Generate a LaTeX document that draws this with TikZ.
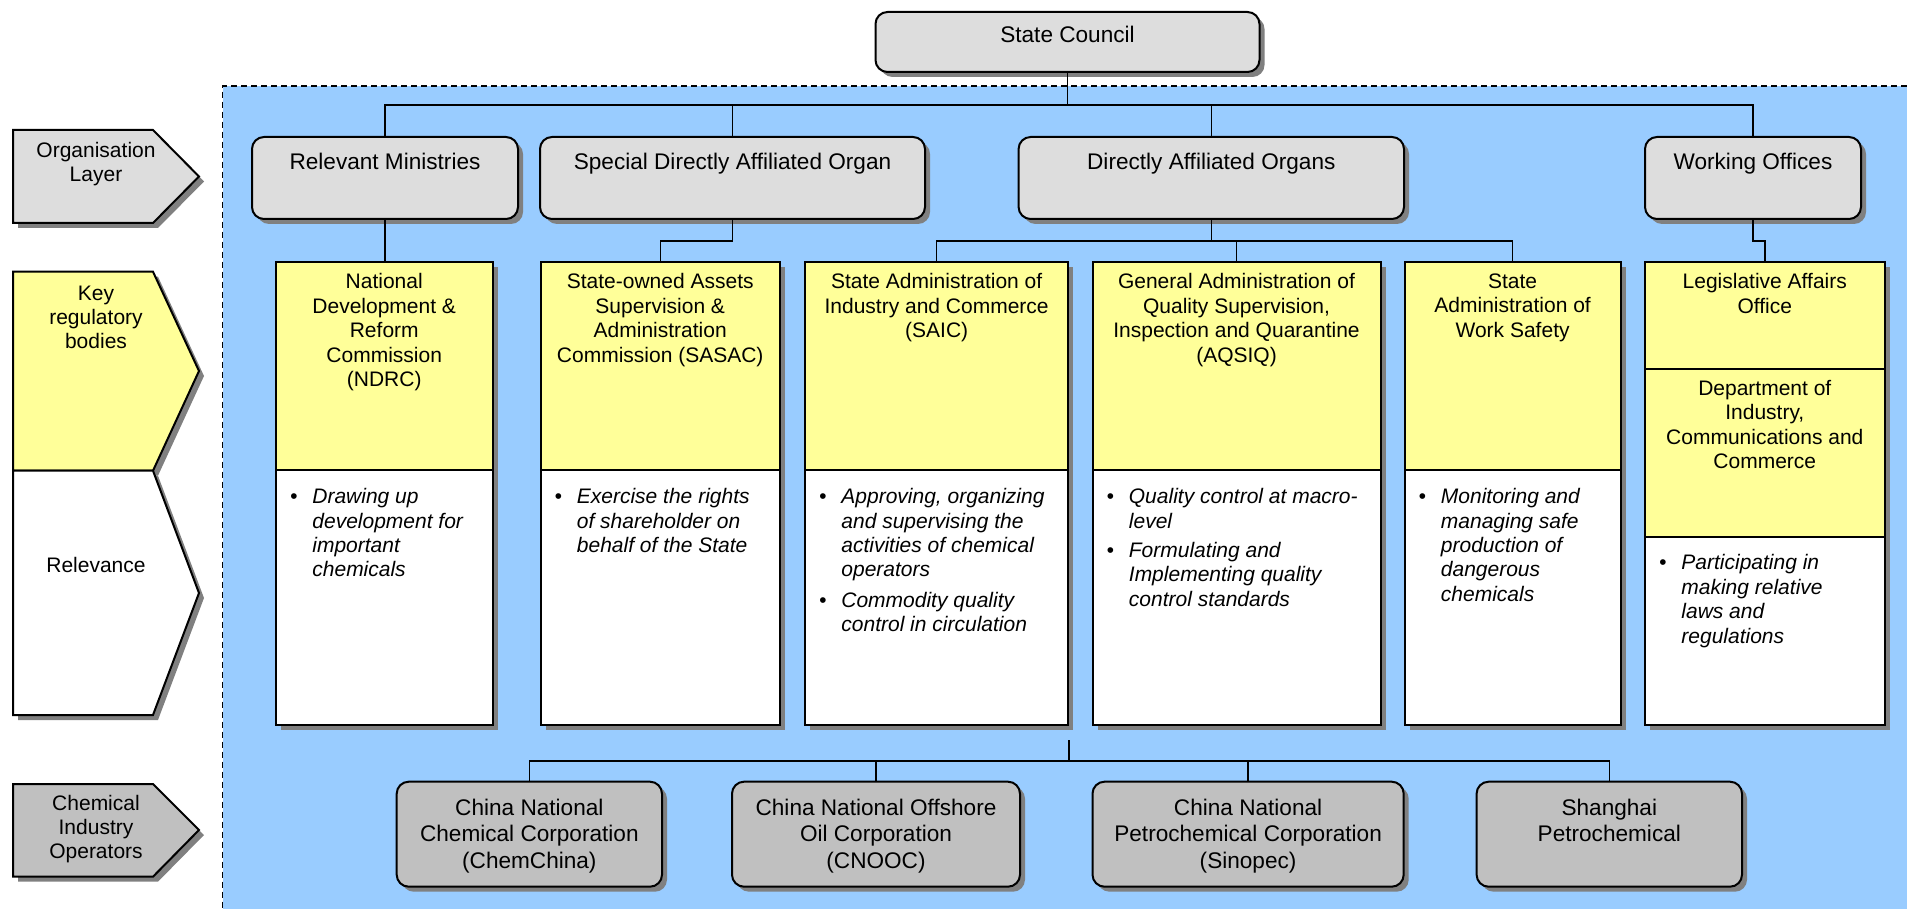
\documentclass[tikz,border=0pt]{standalone}
\usepackage{fontspec}
\setmainfont{Liberation Sans}
\usetikzlibrary{positioning,shadows}
\definecolor{bluebg}{HTML}{99CCFF}
\definecolor{boxgray}{HTML}{DDDDDD}
\definecolor{opgray}{HTML}{C0C0C0}
\definecolor{headyellow}{HTML}{FFFF99}
\definecolor{shadowgray}{HTML}{808080}
% bullet list: \bi starts an item, & continues it
\newcommand{\bl}[1]{{\itshape\begin{tabular}[t]{@{}p{11.1pt}@{}l@{}}#1\end{tabular}}}
\newcommand{\bi}{\textbullet &}

\tikzset{
  boxshadow/.style={drop shadow={opacity=1, fill=shadowgray, shadow xshift=2.5pt, shadow yshift=-2.5pt}},
  orgbox/.style={draw, line width=1pt, rounded corners=6pt, fill=boxgray, boxshadow, minimum height=41pt},
  opbox/.style={draw, line width=1pt, rounded corners=6pt, fill=opgray, boxshadow, minimum height=52.5pt},
  headbox/.style={draw, line width=1pt, fill=headyellow, boxshadow},
  bodybox/.style={draw, line width=1pt, fill=white, boxshadow},
  orgtxt/.style={font=\fontsize{11.3}{13.2}\selectfont, align=center, inner sep=0pt, anchor=north},
  headtxt/.style={font=\fontsize{10.5}{12.25}\selectfont, align=center, inner sep=0pt},
  bultxt/.style={font=\fontsize{10.5}{12.2}\selectfont, inner sep=0pt, anchor=north west},
  sidetxt/.style={font=\fontsize{10.5}{12}\selectfont, align=center, inner sep=0pt},
  link/.style={line width=0.7pt},
}

\begin{document}
\begin{tikzpicture}[x=0.5pt, y=-0.5pt]
  \useasboundingbox (0,0) rectangle (1907,909);
  % area below the State Council
  \fill[bluebg] (222.7,86) rectangle (1907,909);
  \draw[line width=0.7pt, dash pattern=on 3pt off 2pt] (1907,86) -- (222.7,86) -- (222.7,909);

  % side labels
  \foreach \ya/\yb/\ym/\fc in {130/223/176.5/boxgray, 271.7/470.7/371/headyellow, 470.7/715/593/white, 784/876.7/830/opgray}
    \draw[line width=1pt, fill=\fc, boxshadow] (13,\ya) -- (153,\ya) -- (199,\ym) -- (153,\yb) -- (13,\yb) -- cycle;
  \node[sidetxt] (lorg) at (96,164) {Organisation\\Layer};
  \node[sidetxt] (lkey) at (96,317) {Key\\regulatory\\bodies};
  \node[sidetxt] (lrel) at (96,565) {Relevance};
  \node[sidetxt] (lops) at (96,829) {Chemical\\Industry\\Operators};

  % organisation layer
  \node[orgbox, minimum width=192pt, minimum height=30pt] (sc) at (1067.5,42) {};
  \node[orgtxt, below=7.5pt of sc.north] (sc-t) {State Council};
  \foreach \n/\cx/\w/\txt in {rm/385/133/Relevant Ministries, sdao/732.5/192.5/Special Directly Affiliated Organ,
      dao/1211.3/192.7/Directly Affiliated Organs, wo/1753/108/Working Offices} {
    \node[orgbox, minimum width=\w pt] (\n) at (\cx,178) {};
    \node[orgtxt, below=8.5pt of \n.north] (\n-t) {\txt};
  }

  % key regulatory bodies
  \foreach \n/\cx/\w/\txt in {
      ndrc/384.25/108.25/{National\\Development \&\\Reform\\Commission\\(NDRC)},
      sasac/660.25/119.75/{State-owned Assets\\Supervision \&\\Administration\\Commission (SASAC)},
      saic/936.65/131.65/{State Administration of\\Industry and Commerce\\(SAIC)},
      aqsiq/1236.5/144/{General Administration of\\Quality Supervision,\\Inspection and Quarantine\\(AQSIQ)},
      ws/1512.6/108.1/{State\\Administration of\\Work Safety}} {
    \node[headbox, minimum width=\w pt, minimum height=104pt] (\n) at (\cx,366) {};
    \node[bodybox, minimum width=\w pt, minimum height=127.5pt] (\n-b) at (\cx,597.5) {};
    \node[headtxt, below=6pt of \n.north] (\n-t) {\txt};
  }
  \node[headbox, minimum width=119.8pt, minimum height=53.5pt] (lao) at (1764.8,315.5) {};
  \node[headbox, minimum width=119.8pt, minimum height=84.15pt] (dicc) at (1764.8,453.15) {};
  \node[bodybox, minimum width=119.8pt, minimum height=93.85pt] (lao-b) at (1764.8,631.15) {};
  \node[headtxt, below=6pt of lao.north] (lao-t) {Legislative Affairs\\Office};
  \node[headtxt, below=5.8pt of dicc.north] (dicc-t) {Department of\\Industry,\\Communications and\\Commerce};

  % relevance
  \node[bultxt, below right=8.6pt and 7.4pt of ndrc-b.north west] (ndrc-l)
    {\bl{\bi Drawing up\\ & development for\\ & important\\ & chemicals}};
  \node[bultxt, below right=8.6pt and 7.4pt of sasac-b.north west] (sasac-l)
    {\bl{\bi Exercise the rights\\ & of shareholder on\\ & behalf of the State}};
  \node[bultxt, below right=8.6pt and 7.4pt of saic-b.north west] (saic-l)
    {\bl{\bi Approving, organizing\\ & and supervising the\\ & activities of chemical\\ & operators\\[3pt]
      \bi Commodity quality\\ & control in circulation}};
  \node[bultxt, below right=8.6pt and 7.4pt of aqsiq-b.north west] (aqsiq-l)
    {\bl{\bi Quality control at macro-\\ & level\\[2.5pt]
      \bi Formulating and\\ & Implementing quality\\ & control standards}};
  \node[bultxt, below right=8.6pt and 7.4pt of ws-b.north west] (ws-l)
    {\bl{\bi Monitoring and\\ & managing safe\\ & production of\\ & dangerous\\ & chemicals}};
  \node[bultxt, below right=8.1pt and 7.4pt of lao-b.north west] (lao-l)
    {\bl{\bi Participating in\\ & making relative\\ & laws and\\ & regulations}};

  % chemical industry operators
  \foreach \n/\cx/\w/\txt in {chem/529.35/132.65/{China National\\Chemical Corporation\\(ChemChina)},
      cnooc/876/144/{China National Offshore\\Oil Corporation\\(CNOOC)},
      sinopec/1248.1/155.6/{China National\\Petrochemical Corporation\\(Sinopec)},
      shanghai/1609.3/132.7/{Shanghai\\Petrochemical}} {
    \node[opbox, minimum width=\w pt] (\n) at (\cx,834.2) {};
    \node[orgtxt, below=9pt of \n.north] (\n-t) {\txt};
  }

  % connectors
  \coordinate (topbus) at (1067.5,105);
  \draw[link] (sc.south) -- (topbus);
  \draw[link] (rm.north) |- (topbus) -| (wo.north);
  \draw[link] (sdao.north) -- (sdao.north |- topbus);
  \draw[link] (dao.north) -- (dao.north |- topbus);
  \draw[link] (rm.south) -- (rm.south |- ndrc.north);
  \draw[link] (sdao.south) -- ++(0,21) -| (sasac.north);
  \coordinate (midbus) at (1211.3,241);
  \draw[link] (dao.south) -- (midbus);
  \draw[link] (saic.north) |- (midbus) -| (ws.north);
  \draw[link] (aqsiq.north) -- (aqsiq.north |- midbus);
  \draw[link] (wo.south) -- ++(0,21) -| (lao.north);
  \coordinate (opsrc) at (1068.8,740);
  \coordinate (opbus) at (1068.8,761);
  \draw[link] (opsrc) -- (opbus);
  \draw[link] (chem.north) |- (opbus) -| (shanghai.north);
  \draw[link] (cnooc.north) -- (cnooc.north |- opbus);
  \draw[link] (sinopec.north) -- (sinopec.north |- opbus);
\end{tikzpicture}
\end{document}
